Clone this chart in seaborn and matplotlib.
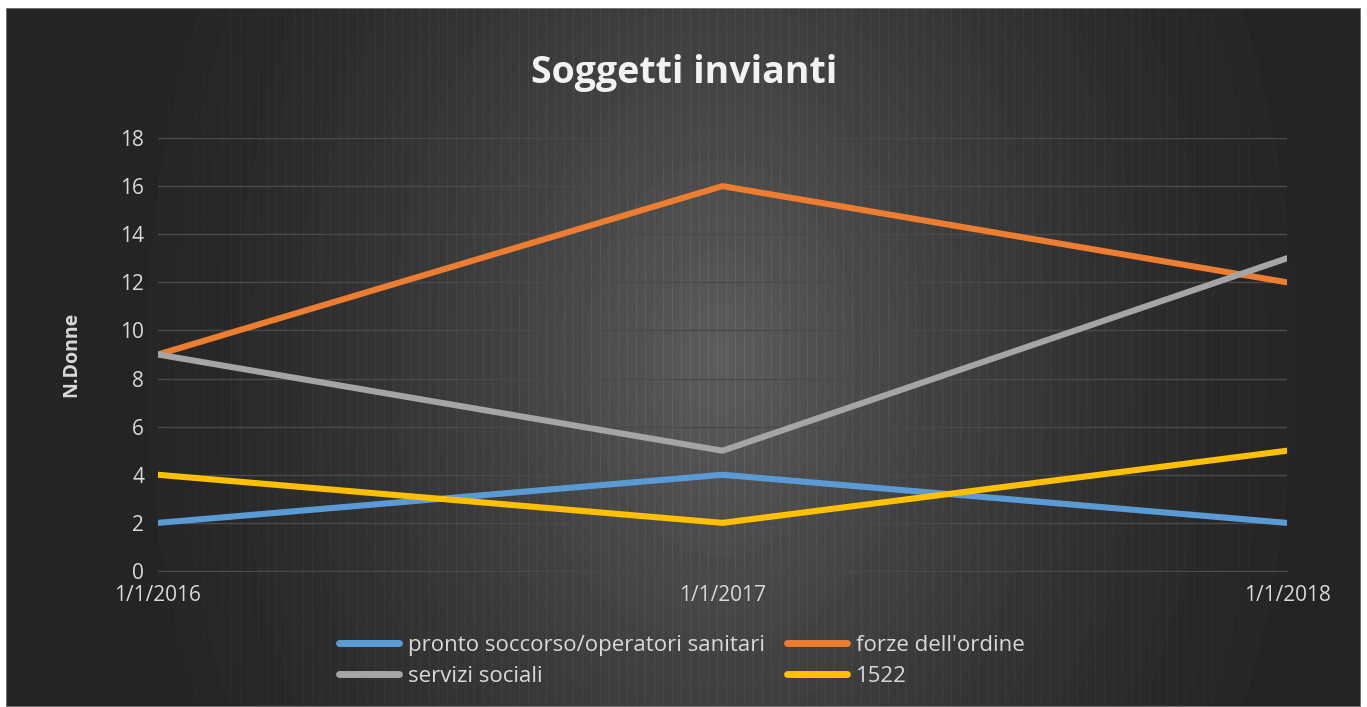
"""Soggetti invianti - line chart in the dark Excel style."""
import matplotlib
matplotlib.use('Agg')
import matplotlib.pyplot as plt
from matplotlib.lines import Line2D
import numpy as np
import pandas as pd
import seaborn as sns

# data
date_labels = ['1/1/2016', '1/1/2017', '1/1/2018']
pronto_soccorso = [2, 4, 2]
forze_ordine = [9, 16, 12]
servizi_sociali = [9, 5, 13]
numero_1522 = [4, 2, 5]

series_names = ['pronto soccorso/operatori sanitari', "forze dell'ordine",
                'servizi sociali', '1522']
series_values = [pronto_soccorso, forze_ordine, servizi_sociali, numero_1522]
colors = ['#5B9BD5', '#ED7D31', '#A5A5A5', '#FFC000']

rows = []
for name, values in zip(series_names, series_values):
    for pos, v in enumerate(values):
        rows.append({'pos': pos, 'valore': v, 'serie': name})
df = pd.DataFrame(rows)

sns.set_style('dark')
plt.rcParams['font.family'] = ['Open Sans', 'DejaVu Sans']

W, H = 1367, 707
fig = plt.figure(figsize=(W / 100, H / 100), dpi=100, facecolor='white')

# background panel with a radial glow and faint vertical stripes
bg = fig.add_axes([6 / W, 0, (1361 - 6) / W, (H - 8) / H])
bg.set_axis_off()
ny, nx = 699, 1355
yy, xx = np.mgrid[0:ny, 0:nx]
cx, cy = 714, 350
r = np.sqrt(((xx - cx) / 620.0) ** 2 + ((yy - cy) / 900.0) ** 2)
glow = np.clip(1 - r, 0, 1) ** 1.6
stripes = ((xx % 9) == 0) * np.clip(1 - r * 1.05, 0, 1) ** 0.5
level = 0.145 + 0.22 * glow + 0.05 * stripes
bg.imshow(np.clip(level, 0, 1), cmap='gray', vmin=0, vmax=1,
          aspect='auto', extent=(0, nx, 0, ny), interpolation='bilinear')
bg.add_patch(plt.Rectangle((0, 0), nx, ny, fill=False, edgecolor='#7f7f7f', lw=1.2))

ax = fig.add_axes([158 / W, 136 / H, (1287 - 158) / W, (571 - 138) / H])
ax.patch.set_alpha(0)
sns.lineplot(data=df, x='pos', y='valore', hue='serie', hue_order=series_names,
             palette=colors, linewidth=4.4, legend=False, ax=ax)

ax.set_xlim(0, 2)
ax.set_ylim(0, 18)
ax.set_yticks(range(0, 19, 2))
ax.set_xticks(range(len(date_labels)))
ax.set_xticklabels(date_labels)
ax.grid(axis='y', color='#4a4a4a', linewidth=1.0)
ax.grid(axis='x', visible=False)
ax.set_axisbelow(True)
for side in ('left', 'right', 'top'):
    ax.spines[side].set_visible(False)
ax.spines['bottom'].set_color('#4a4a4a')
ax.tick_params(axis='both', colors='#d9d9d9', labelsize=15, length=0)
ax.tick_params(axis='y', pad=10)
ax.tick_params(axis='x', pad=10)
ax.set_xlabel('')
ax.set_ylabel('N.Donne', color='#d9d9d9', fontsize=14, fontweight='bold', labelpad=28)

fig.text(684 / W, 1 - 73 / H, 'Soggetti invianti', color='#f2f2f2', fontsize=27,
         fontweight='bold', ha='center', va='center')

# legend laid out row by row like the original (ncol fills column-wise)
handles = [Line2D([], [], color=c, lw=5) for c in colors]
order = [0, 2, 1, 3]
leg = fig.legend([handles[i] for i in order], [series_names[i] for i in order],
                 ncol=2, loc='center', bbox_to_anchor=(682 / W, 1 - 661 / H),
                 frameon=False, fontsize=16, handlelength=2.7, handletextpad=0.4,
                 columnspacing=1.0, labelspacing=0.45)
for t in leg.get_texts():
    t.set_color('#d9d9d9')

fig.savefig('out.png', dpi=100, facecolor='white')
